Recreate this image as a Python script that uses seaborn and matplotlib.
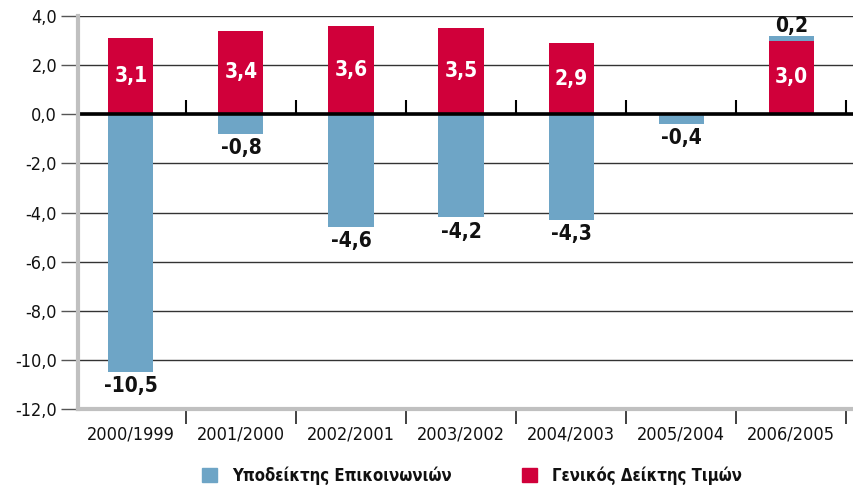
import numpy as np
import pandas as pd
import seaborn as sns
import matplotlib.pyplot as plt
from matplotlib.patches import Patch

periods = ['2000/1999', '2001/2000', '2002/2001', '2003/2002', '2004/2003', '2005/2004', '2006/2005']
epikoinonies = [-10.5, -0.8, -4.6, -4.2, -4.3, -0.4, 0.2]
genikos = [3.1, 3.4, 3.6, 3.5, 2.9, 0.0, 3.0]
yticks = [4, 2, 0, -2, -4, -6, -8, -10, -12]

blue = '#6ea5c6'
red = '#d0003a'

df = pd.DataFrame({'period': periods, 'epik': epikoinonies, 'gen': genikos})
df['epik_bottom'] = np.where(df['epik'] > 0, df['gen'], 0)

sns.set_style('white')
plt.rcParams['font.family'] = ['DejaVu Sans']
plt.rcParams['font.stretch'] = 'condensed'
plt.rcParams['text.color'] = '#111111'
plt.rcParams['xtick.color'] = '#111111'
plt.rcParams['ytick.color'] = '#111111'

fig = plt.figure(figsize=(8.54, 4.97), dpi=100)
ax = fig.add_axes([78 / 854, 88 / 497, 1 - 78 / 854, 393 / 497])

sns.barplot(data=df, x='period', y='gen', color=red, saturation=1, width=0.41,
            linewidth=0, ax=ax, zorder=3)
sns.barplot(data=df, x='period', y='epik', color=blue, saturation=1, width=0.41,
            linewidth=0, bottom=df['epik_bottom'].values, ax=ax, zorder=3)

ax.set_ylim(-12, 4)
ax.set_xlim(-0.48, 6.57)
ax.set_yticks(yticks)
ax.set_yticklabels([f'{v:.1f}'.replace('.', ',') for v in yticks], fontsize=13)
ax.tick_params(axis='y', left=True, length=12, color='#555555', width=1, pad=3)
ax.grid(axis='y', color='#333333', linewidth=1, zorder=1)
ax.axhline(0, color='black', linewidth=2.6, zorder=4)

ax.set_xticks(range(len(periods)))
ax.set_xticklabels(periods, fontsize=13)
ax.tick_params(axis='x', which='major', bottom=False, length=0, pad=12)
bounds = np.arange(len(periods)) + 0.5
ax.set_xticks(bounds, minor=True)
ax.tick_params(axis='x', which='minor', bottom=True, length=11, width=1.2,
               color='#222222', direction='out')
ax.vlines(bounds, 0, 0.6, color='black', linewidth=1.5, zorder=4)

ax.set_xlabel('')
ax.set_ylabel('')
for s in ['top', 'right']:
    ax.spines[s].set_visible(False)
for s in ['left', 'bottom']:
    ax.spines[s].set_color('#c0c0c0')
    ax.spines[s].set_linewidth(3)
    ax.spines[s].set_zorder(5)

for i, (e, g) in enumerate(zip(epikoinonies, genikos)):
    if g != 0:
        ax.text(i, g / 2, f'{g:.1f}'.replace('.', ','), color='white', fontsize=15,
                fontweight='bold', ha='center', va='center', zorder=6)
    lab = f'{e:.1f}'.replace('.', ',')
    if e < 0:
        ax.annotate(lab, (i, e), xytext=(0, -3), textcoords='offset points',
                    ha='center', va='top', fontsize=15, fontweight='bold', zorder=6)
    else:
        ax.annotate(lab, (i, e + g), xytext=(0, 0), textcoords='offset points',
                    ha='center', va='bottom', fontsize=15, fontweight='bold', zorder=6)

handles = [Patch(color=blue, label='Υποδείκτης Επικοινωνιών'),
           Patch(color=red, label='Γενικός Δείκτης Τιμών')]
leg = fig.legend(handles=handles, loc='lower center', bbox_to_anchor=(0.553, -0.006), ncol=2,
                 frameon=False, handlelength=0.9, handleheight=0.9, columnspacing=4.2,
                 handletextpad=0.9, prop={'size': 12, 'weight': 'bold'})

fig.savefig('out.png', dpi=100)
